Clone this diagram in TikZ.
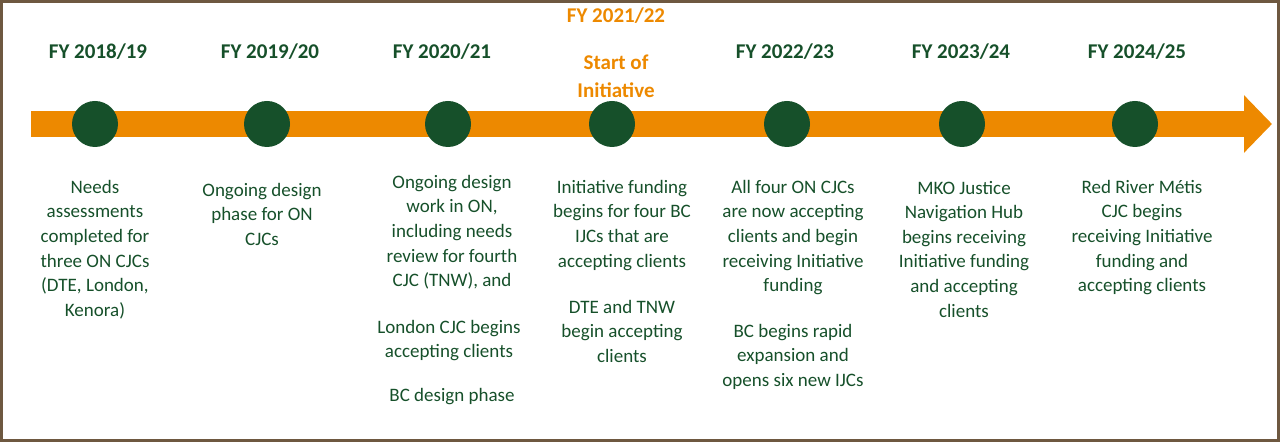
\documentclass[tikz,border=0pt]{standalone}
\usepackage{fontspec}
\setmainfont{Carlito}
\usetikzlibrary{positioning,arrows.meta}
\definecolor{dkgreen}{RGB}{22,80,42}
\definecolor{tlorange}{RGB}{237,137,0}
\definecolor{frame}{RGB}{110,88,64}
\begin{document}
\begin{tikzpicture}[x=0.5pt,y=-0.5pt]

      \tikzset{dot/.style={circle, fill=dkgreen, inner sep=0pt, minimum size=23pt},
               year/.style={font=\bfseries\fontsize{10.5}{12}\selectfont, text=dkgreen},
               orng/.style={font=\bfseries\fontsize{10.5}{14}\selectfont, text=tlorange, align=center},
               info/.style={font=\fontsize{9.5}{12.3}\selectfont, text=dkgreen, align=center, anchor=north}}
      \useasboundingbox (0,0) rectangle (1280,442);
      \draw[frame, line width=1.5pt] (1.5,1.5) rectangle (1278.5,440.5);
%% Arrow
      \coordinate (s) at (31,124);
      \coordinate (e) at (1272,124);
      \draw[tlorange, line width=13pt, -{Triangle[length=14pt,width=28pt]}] (s) -- (e);
%% Dots
      \node[dot] (d1) at (95,124) {};
      \node[dot] (d2) at (267,124) {};
      \node[dot] (d3) at (448,124) {};
      \node[dot] (d4) at (612,124) {};
      \node[dot] (d5) at (787,124) {};
      \node[dot] (d6) at (962,124) {};
      \node[dot] (d7) at (1135,124) {};
%% Years
      \node[year] (y1) at (98,52) {FY 2018/19};
      \node[year] (y2) at (270,52) {FY 2019/20};
      \node[year] (y3) at (442,52) {FY 2020/21};
      \node[orng] (y4) at (616,16) {FY 2021/22};
      \node[orng] (st) at (616,76) {Start of\\Initiative};
      \node[year] (y5) at (785,52) {FY 2022/23};
      \node[year] (y6) at (961,52) {FY 2023/24};
      \node[year] (y7) at (1137,52) {FY 2024/25};
%% Texts
      \node[info] (t1) at (95,173) {Needs\\assessments\\completed for\\three ON CJCs\\(DTE, London,\\Kenora)};
      \node[info] (t2) at (262,176) {Ongoing design\\phase for ON\\CJCs};
      \node[info] (t3) at (452,168) {Ongoing design\\work in ON,\\including needs\\review for fourth\\CJC (TNW), and};
      \node[info] (t3b) at (449,313) {London CJC begins\\accepting clients};
      \node[info] (t3c) at (452,381) {BC design phase};
      \node[info] (t4) at (622,173) {Initiative funding\\begins for four BC\\IJCs that are\\accepting clients};
      \node[info] (t4b) at (622,293) {DTE and TNW\\begin accepting\\clients};
      \node[info] (t5) at (793,173) {All four ON CJCs\\are now accepting\\clients and begin\\receiving Initiative\\funding};
      \node[info] (t5b) at (793,317) {BC begins rapid\\expansion and\\opens six new IJCs};
      \node[info] (t6) at (964,174) {MKO Justice\\Navigation Hub\\begins receiving\\Initiative funding\\and accepting\\clients};
      \node[info] (t7) at (1142,173) {Red River Métis\\CJC begins\\receiving Initiative\\funding and\\accepting clients};
\end{tikzpicture}
\end{document}
